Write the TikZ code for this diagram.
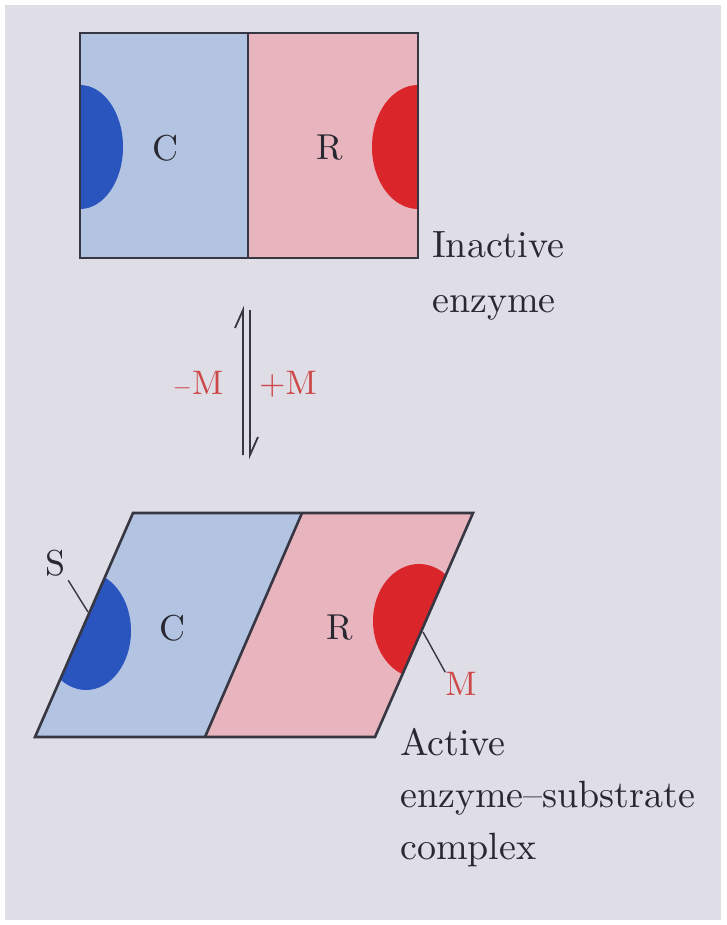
\documentclass[tikz,border=0pt]{standalone}
\usepackage{fontspec}
\setmainfont{lmroman10-regular.otf}
\definecolor{bg}{RGB}{223,221,229}
\definecolor{cfill}{RGB}{178,196,226}
\definecolor{rfill}{RGB}{232,180,190}
\definecolor{sblue}{RGB}{42,84,190}
\definecolor{mred}{RGB}{218,38,42}
\definecolor{edge}{RGB}{55,55,68}
\definecolor{ink}{RGB}{40,40,48}
\definecolor{mlab}{RGB}{205,72,72}
\begin{document}
\begin{tikzpicture}[x=1pt,y=-1pt,
  outline/.style={draw=edge,line width=2.6pt,line join=miter},
  lab/.style={text=ink,inner sep=0pt,font=\fontsize{36}{40}\selectfont},
  capt/.style={text=ink,inner sep=0pt,align=left,anchor=north west},
  mlabel/.style={text=mlab,inner sep=0pt,font=\fontsize{34}{40}\selectfont},
  leader/.style={draw=edge,line width=1.4pt},
  harp/.style={draw=edge,line width=1.8pt}]
\fill[white] (0,0) rectangle (726,925);
\fill[bg] (5,5) rectangle (721,920);
\useasboundingbox (0,0) rectangle (726,925);
% ---- top (inactive) ----
\fill[cfill] (80,33) rectangle (248,258);
\fill[rfill] (248,33) rectangle (418,258);
\begin{scope}
  \clip (80,33) rectangle (418,258);
  \fill[sblue] (80,147) ellipse (43 and 62);
  \fill[mred] (418,147) ellipse (46 and 62);
\end{scope}
\draw[outline] (80,33) rectangle (418,258);
\draw[outline] (248,33) -- (248,258);
\node[lab] (c1) at (165,148) {C};
\node[lab] (r1) at (330,148) {R};
\node[capt,font=\fontsize{38}{55}\selectfont] (inact) at (432,231) {Inactive\\enzyme};
% ---- equilibrium harpoons ----
\coordinate (la) at (243,455);
\coordinate (lb) at (243,310);
\coordinate (lc) at (235,328);
\coordinate (ra) at (250,310);
\coordinate (rb) at (250,455);
\coordinate (rc) at (258,437);
\draw[harp] (la) -- (lb) -- (lc);
\draw[harp] (ra) -- (rb) -- (rc);
\node[mlabel] (mm) at (198,384) {$-$M};
\node[mlabel] (mp) at (288,384) {+M};
% ---- bottom (active) ----
\fill[cfill] (35,737) -- (133,513) -- (302,513) -- (205,737) -- cycle;
\fill[rfill] (205,737) -- (302,513) -- (473,513) -- (375,737) -- cycle;
\begin{scope}
  \clip (35,737) -- (133,513) -- (473,513) -- (375,737) -- cycle;
  \fill[sblue] (86,631) ellipse (45 and 59);
  \fill[mred] (419,621) ellipse (46 and 57);
\end{scope}
\draw[outline] (35,737) -- (133,513) -- (473,513) -- (375,737) -- cycle;
\draw[outline] (205,737) -- (302,513);
\node[lab] (c2) at (172,628) {C};
\node[lab] (r2) at (340,628) {R};
\node[lab] (s) at (56,563) {S};
\coordinate (sp) at (88,612);
\draw[leader] (s.south east) ++(2,4) coordinate (s0) (s0) -- (sp);
\node[mlabel] (m) at (461,684) {M};
\coordinate (mp0) at (423,632);
\draw[leader] (mp0) -- (m.north west);
\node[capt,font=\fontsize{38}{52}\selectfont] (act) at (400,728) {Active\\enzyme–substrate\\complex};
\end{tikzpicture}
\end{document}
